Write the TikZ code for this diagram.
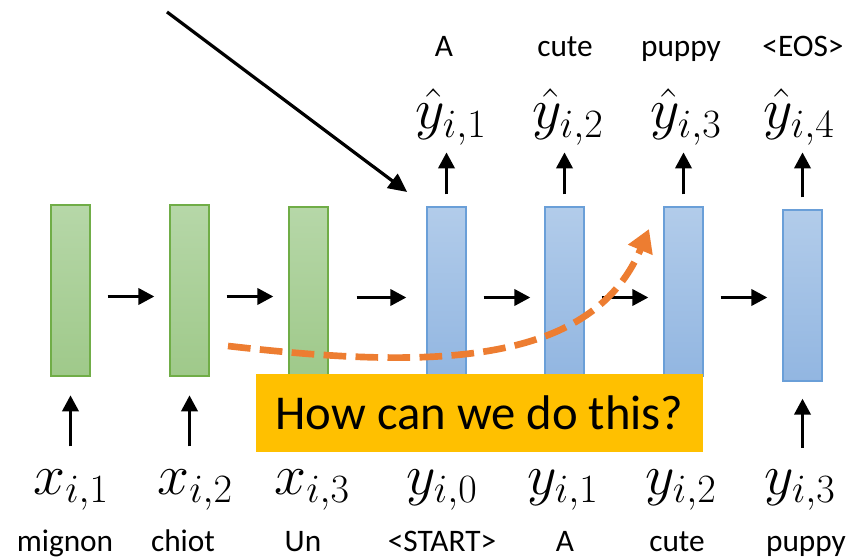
\RequirePackage{fix-cm}
\documentclass[tikz,border=0pt]{standalone}
\usepackage[no-math]{fontspec}
\setmainfont{Carlito}
\usepackage{amsmath}
\usepackage{xcolor}
\definecolor{enctop}{HTML}{B6D7A8}
\definecolor{encbot}{HTML}{9FC98A}
\definecolor{encline}{HTML}{70AD47}
\definecolor{dectop}{HTML}{B2CCEA}
\definecolor{decbot}{HTML}{92B6E1}
\definecolor{decline}{HTML}{6A9FD8}
\definecolor{hintorange}{HTML}{ED7D31}
\definecolor{askyellow}{HTML}{FFC000}
\usepackage{tikz}
\usetikzlibrary{arrows.meta}

\begin{document}
\begin{tikzpicture}[
  x=0.75pt, y=-0.75pt,
  font=\fontsize{23.5}{27}\selectfont,
  enc/.style={draw=encline, line width=0.9pt, top color=enctop, bottom color=encbot,
              minimum width=29.25pt, minimum height=128.25pt, inner sep=0pt},
  dec/.style={enc, draw=decline, top color=dectop, bottom color=decbot},
  sym/.style={font=\fontsize{43}{46}\selectfont, anchor=base, inner sep=0pt},
  word/.style={anchor=base, inner sep=0pt},
  ask/.style={fill=askyellow, minimum width=335.25pt, minimum height=58.5pt,
              inner sep=0pt, font=\fontsize{36.5}{40}\selectfont},
  arr/.style={-{Triangle[length=12pt,width=12pt]}, line width=2.7pt},
  hint/.style={-{Triangle[length=17pt,width=19pt]}, draw=hintorange, line width=5pt,
               dash pattern=on 17pt off 7pt}
]
\useasboundingbox (0,0) rectangle (853,559);

\node[enc] (e1) at (70.5,290.5) {};
\node[enc] (e2) at (189.5,290.5) {};
\node[enc, minimum height=126.75pt] (e3) at (308.5,291.5) {};
\node[dec, minimum height=126.75pt] (d1) at (446.5,291.5) {};
\node[dec, minimum height=126.75pt] (d2) at (564.5,291.5) {};
\node[dec, minimum height=126.75pt] (d3) at (683.5,291.5) {};
\node[dec] (d4) at (802.5,295.5) {};

% outputs
\node[word] (o1) at (444,57) {A};
\node[word] (o2) at (565,57) {cute};
\node[word] (o3) at (681,57) {puppy};
\node[word] (o4) at (803,57) {<EOS>};
\node[sym] (h1) at (451,129) {$\hat{y}_{i,1}$};
\node[sym] (h2) at (568,129) {$\hat{y}_{i,2}$};
\node[sym] (h3) at (686,129) {$\hat{y}_{i,3}$};
\node[sym] (h4) at (799,129) {$\hat{y}_{i,4}$};

% inputs
\node[sym] (x1) at (71,494) {$x_{i,1}$};
\node[sym] (x2) at (195,494) {$x_{i,2}$};
\node[sym] (x3) at (312,494) {$x_{i,3}$};
\node[sym] (y0) at (442,494) {$y_{i,0}$};
\node[sym] (y1) at (563,494) {$y_{i,1}$};
\node[sym] (y2) at (681,494) {$y_{i,2}$};
\node[sym] (y3) at (800,494) {$y_{i,3}$};
\node[word] (w1) at (65,551) {mignon};
\node[word] (w2) at (183,551) {chiot};
\node[word] (w3) at (303,551) {Un};
\node[word] (w4) at (442,551) {<START>};
\node[word] (w5) at (565,551) {A};
\node[word] (w6) at (677,551) {cute};
\node[word] (w7) at (806,551) {puppy};

% recurrence
\draw[arr, shorten <=12.75pt, shorten >=11.25pt] ([yshift=-4.5pt]e1.east) -- ([yshift=-4.5pt]e1.east -| e2.west);
\draw[arr, shorten <=12.75pt, shorten >=11.25pt] ([yshift=-4.5pt]e2.east) -- ([yshift=-4.5pt]e2.east -| e3.west);
\draw[arr, shorten <=21pt, shorten >=15pt] ([yshift=-4.5pt]e3.east) -- ([yshift=-4.5pt]e3.east -| d1.west);
\draw[arr, shorten <=12.75pt, shorten >=10.5pt] ([yshift=-4.5pt]d1.east) -- ([yshift=-4.5pt]d1.east -| d2.west);
\draw[arr, shorten <=12.75pt, shorten >=11.25pt] ([yshift=-4.5pt]d2.east) -- ([yshift=-4.5pt]d2.east -| d3.west);
\draw[arr, shorten <=12.75pt, shorten >=11.25pt] ([yshift=-4.5pt]d3.east) -- ([yshift=-4.5pt]d3.east -| d4.west);

% up arrows
\draw[arr, shorten <=17pt, shorten >=14pt] (e1.south |- x1.north) -- (e1.south);
\draw[arr, shorten <=17pt, shorten >=14pt] (e2.south |- x2.north) -- (e2.south);
\draw[arr, shorten <=16pt, shorten >=12.75pt] (d4.south |- y3.north) -- (d4.south);
\draw[arr, shorten <=9pt, shorten >=5pt] (d1.north) -- (d1.north |- h1.south);
\draw[arr, shorten <=9pt, shorten >=5pt] (d2.north) -- (d2.north |- h2.south);
\draw[arr, shorten <=9pt, shorten >=5pt] (d3.north) -- (d3.north |- h3.south);
\draw[arr, shorten <=9pt, shorten >=5pt] (d4.north) -- (d4.north |- h4.south);

% pointer to the first decoder step
\coordinate (cue) at (167,12);
\draw[-{Triangle[length=14pt,width=13pt]}, line width=2.4pt, shorten >=18pt] (cue) -- (d1.north west);

% hoped-for shortcut
\coordinate (hs) at (228,346);
\coordinate (he) at (649,229);
\draw[hint] (hs) .. controls (420,368) and (590,370) .. (he);

\node[ask] (q) at (479.5,413) {How can we do this?};
\end{tikzpicture}
\end{document}
